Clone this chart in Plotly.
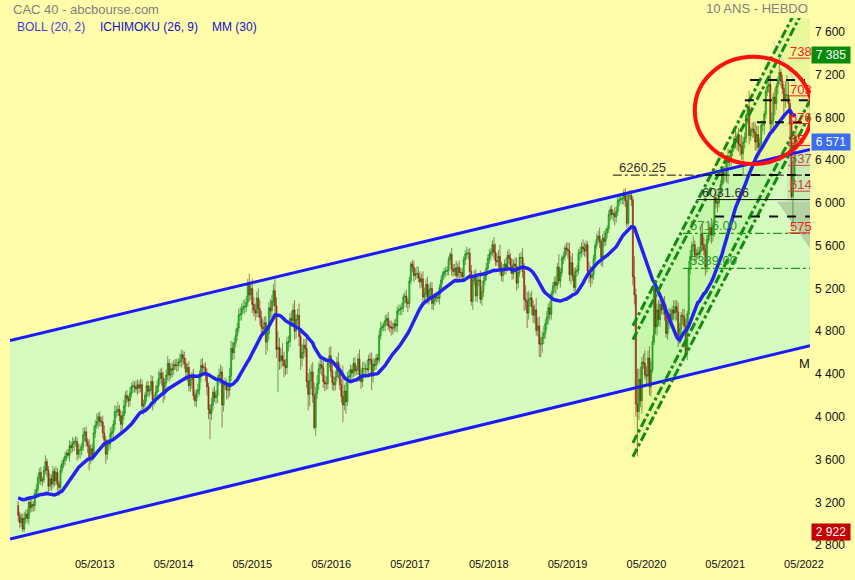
import pandas as pd
import plotly.graph_objects as go

# ---------------- weekly closes (CAC 40) ----------------
c_pre = [3170,3080,3350,3120,3110,2930,2820,3150,3120,2990,3070,3160,3140,3200,3320,
         3320,3420,3370,3470,3450,3480,3490,3600,3490,3420,3320,3190,3190,3270,3170]
c2012 = [3080,3010,3050, 2950,3050,3090,3050,3200, 3150,3180,3170,3280, 3320,3430,3480,3400,3410,
         3500,3580,3500,3350, 3420,3370,3490,3400, 3480,3370,3340,3500,3560, 3590,3630,3660,3640]
c2013 = [3730,3710,3750,3770, 3770,3650,3690,3690, 3720,3830,3860,3770,3730, 3600,3700,3640,3850,
         3920,3950,4000,3960,3950, 3850,3780,3650,3740, 3750,3840,3860,3930, 4050,4050,4070,4010,3930,
         4010,4100,4200,4170, 4150,4220,4280,4290, 4280,4260,4300,4270,4300, 4100,4120,4200,4290]
c2014 = [4240,4250,4330,4160,4170, 4230,4290,4360,4410, 4360,4220,4320,4390, 4500,4390,4450,4440,
         4490,4480,4480,4510,4520, 4580,4550,4500,4420, 4460,4290,4350,4380, 4200,4150,4220,4250,4380,
         4480,4460,4460,4390, 4280,4070,4030,4110,4230, 4180,4200,4350,4390, 4420,4110,4300,4310]
c2015 = [4250,4250,4380,4640,4600, 4690,4760,4830,4950, 4960,5010,5030,5030, 5070,5240,5140,5200,
         5050,5000,4970,5110,5010, 4930,4840,4820,4880, 4700,4780,5020,4990,5080, 5180,5040,4630,4650,
         4520,4570,4530,4480, 4460,4700,4700,4920,4900, 5000,4800,4910,4950, 4750,4550,4600,4670]
c2016 = [4640,4330,4210,4340,4420, 4200,3900,4220,4310, 4450,4490,4460,4330, 4310,4310,4500,4570,4430,
         4320,4300,4370,4510, 4420,4300,4190,4110, 4240,4140,4370,4380,4440, 4410,4500,4430,4440,
         4540,4390,4330,4450,4450, 4450,4440,4540,4530, 4380,4490,4480,4550, 4530,4760,4830,4840,4860]
c2017 = [4900,4920,4850,4840, 4830,4830,4870,4850, 4990,5000,5010,5020,5120, 5130,5070,5060,5270,
         5430,5400,5320,5340, 5340,5300,5260,5290,5120, 5150,5240,5120,5190, 5200,5060,5090,5120,
         5120,5110,5210,5280,5330, 5360,5360,5370,5470, 5520,5380,5360,5390, 5320,5400,5350,5350,5310]
c2018 = [5470,5520,5530,5530, 5360,5080,5280,5320, 5130,5270,5280,5100,5170, 5270,5320,5390,5480,
         5520,5540,5610,5540, 5460,5450,5500,5390,5320, 5380,5430,5400,5510, 5480,5410,5340,5430,5410,
         5250,5350,5490,5490, 5360,5100,5080,4970, 5100,5110,5030,4950,5000, 4810,4850,4680,4680]
c2019 = [4740,4780,4870,4930, 5020,4960,5150,5220, 5260,5230,5400,5270,5350, 5480,5500,5580,5570,
         5550,5330,5440,5320,5210, 5360,5370,5530,5540, 5590,5570,5550,5610, 5360,5330,5300,5330,5480,
         5600,5660,5690,5640, 5490,5670,5640,5720, 5760,5890,5940,5890,5900, 5870,5920,6020,6030]
c2020 = [6040,6040,6100,6020,5810, 6070,6070,6030,5310, 5140,4120,4050,4350, 4150,4510,4500,4390,
         4380,4550,4280,4440,4700, 5200,4840,5000,4910, 5050,5000,5070,4960,4780, 4890,4960,4910,5000,
         4970,5030,4980,4730, 4820,4950,4940,4850,4590, 4960,5380,5500,5600, 5610,5510,5530,5520]
c2021 = [5550,5710,5610,5560,5400, 5660,5700,5770,5700, 5780,6050,6000,6000, 6100,6170,6290,6260,6270,
         6390,6380,6390,6480, 6520,6600,6570,6620, 6550,6530,6460,6570,6610, 6820,6900,6630,6680,
         6690,6660,6570,6640, 6520,6560,6730,6730,6830, 7040,7090,7110,6740, 6770,6990,6930,7090,7150]
c2022 = [7220,7140,7070,6970, 7010,7010,6930,6750, 6060,6260,6620,6571]

# upper / lower wick lengths (points beyond the candle body)
u2012 = [40,30,50,40,60,40,50,30,40,60,30,40,50,30,40,50,30,40,60,30,40,50,40,50,30,60,40,30,50,40,30,40,30,40]
d2012 = [60,50,40,28,30,50,40,60,50,40,60,50,30,40,60,40,50,30,40,60,70,40,60,40,50,40,60,80,40,30,40,50,40,30]
u2013 = [50,40,60,30, 50,40,60,50, 40,70,40,50,30, 60,40,50,60, 50,80,40,50,40, 60,70,40,50, 40,60,50,40,
         60,50,70,40,50, 40,60,40,50, 30,60,40,50, 40,60,50,40,60, 50,40,30,40]
d2013 = [60,50,40,70, 50,60,40,80, 50,40,60,50,70, 100,40,60,40, 50,30,60,50,40, 50,60,90,50, 60,50,40,70,
         50,60,40,50,90, 50,40,70,40, 60,50,40,60, 50,40,60,50,40, 70,80,50,60]
u2014 = [50,40,60,50,40, 60,50,70,40, 50,60,40,50, 70,40,50,60, 40,50,60,40,70, 50,40,60,50, 40,60,50,40,
         70,50,40,60,50, 60,70,40,50, 60,40,50,70,40, 60,50,40,60, 70,50,40,60]
d2014 = [60,50,40,100,60, 50,40,60,50, 70,90,60,40, 50,60,40,70, 50,40,60,50,40, 60,70,50,60, 90,50,60,90,
         40,50,60,40,50, 60,50,40,60, 80,90,240,60,50, 40,60,70,50, 80,210,60,50]
u2015 = [40,60,80,70,60, 50,60,50,60, 70,50,60,70, 60,50,100,60, 90,70,60,60,90, 80,60,70,60, 60,70,50,80,60,
         60,110,80,150, 90,70,120,80, 60,50,60,50,70, 60,90,50,60, 110,70,80,60]
d2015 = [90,80,60,50,70, 60,40,50,40, 50,60,40,70, 50,40,60,50, 80,60,70,40,80, 70,90,60,50, 120,80,60,70,60,
         50,90,80,400, 80,70,60,110, 70,60,90,50,60, 60,80,70,50, 90,110,80,60]
u2016 = [60,90,80,110,70, 90,120,60,80, 60,70,60,90, 60,70,50,80,90, 70,60,60,50, 90,70,60,290, 60,80,50,60,50,
         40,50,60,40, 50,90,70,60,70, 50,80,40,60, 70,60,50,40, 40,50,60,40,30]
d2016 = [80,60,150,110,80, 70,20,80,50, 60,50,80,60, 70,60,50,40,60, 70,60,50,40, 60,50,60,160, 50,110,40,50,40,
         60,40,50,40, 50,60,70,50,60, 70,50,60,40, 130,60,50,40, 40,30,40,30,40]
u2017 = [50,40,60,50, 60,50,40,50, 40,50,40,50,30, 40,60,40,40, 20,40,60,50, 70,60,60,50,70, 60,50,70,50,
         60,60,50,40, 40,50,30,40,30, 30,40,40,30, 20,60,50,40, 70,40,60,40,40]
d2017 = [60,50,40,50, 70,60,40,50, 60,40,50,60,40, 60,50,80,40, 30,50,60,40, 50,40,60,50,60, 70,50,60,70,
         70,60,60,50, 50,40,60,50,40, 40,50,40,50, 50,60,50,40, 40,50,60,50,40]
u2018 = [30,40,60,40, 50,60,40,50, 60,70,50,90,50, 40,50,50,40, 50,40,40,70, 80,70,60,110,60, 50,40,60,40,
         60,50,70,40,60, 80,40,40,50, 90,80,130,90, 80,50,70,60,50, 110,80,90,70]
d2018 = [40,50,40,60, 60,40,80,50, 50,60,50,40,60, 50,40,40,30, 50,60,40,60, 50,40,60,60,50, 60,50,70,40,
         50,70,60,50,60, 70,50,40,60, 60,110,80,140, 60,70,80,70,80, 50,60,120,124]
u2019 = [60,70,40,60, 40,60,30,40, 50,60,40,120,40, 30,40,30,50, 60,80,60,90,70, 40,50,40,50, 40,70,60,40,
         30,90,80,70,40, 40,50,50,80, 20,40,70,40, 30,40,30,40,30, 60,50,40,40]
d2019 = [80,60,50,60, 70,60,50,40, 60,80,40,30,60, 40,50,40,60, 70,60,90,50,40, 60,50,40,70, 50,60,50,60,
         30,80,90,60,50, 40,30,40,60, 80,90,50,40, 50,40,60,40,60, 80,50,40,50]
u2020 = [50,40,30,40,60, 40,50,50,30, 190,60,330,100, 120,50,80,120, 80,70,110,80,60, 10,20,60,90,
         50,80,40,60,90, 50,60,50,40, 90,60,60,90, 60,30,60,70,70, 30,80,60,40, 80,40,40,60]
d2020 = [40,50,60,60,40, 20,40,60,80, 90,120,418,80, 60,120,50,40, 90,60,80,90,30, 30,70,80,60,
         70,40,50,60,40, 60,70,60,50, 60,70,80,80, 50,60,80,60,30, 60,80,50,40, 60,70,50,40]
u2021 = [40,60,100,70,60, 40,60,40,90, 60,30,80,50, 30,40,30,50,80, 50,120,60,40, 20,30,100,40,
         80,80,110,50,50, 20,20,150,30, 60,70,90,80, 80,50,40,40,30, 30,40,50,140, 80,40,80,30,30]
d2021 = [60,40,60,50,80, 50,40,60,80, 60,90,50,90, 40,30,50,80,60, 80,200,40,50, 40,30,60,80,
         70,90,60,200,60, 50,80,80,50, 70,50,80,80, 100,80,50,60,90, 40,40,60,90, 90,80,110,60,70]
u2022 = [156,30,60,40, 130,190,130,40, 90,140,20,90]
d2022 = [40,50,50,180, 80,60,80,310, 20,304,90,70]

# ---------------- drawn objects (dates / price levels) ----------------
view_range = ["2012-04-03", "2022-05-29"]
chan_dates = ["2012-04-03", "2022-05-29"]
chan_top = [4713, 6500]
chan_bot = [2856, 4666]

reg_dates = ["2020-02-28", "2022-05-29"]
reg_up = [4852, 8055]
reg_lo = [3626, 6829]
reg_gap = 130

fan_dates = ["2021-12-09", "2022-05-29"]
fan_prices = [7507, 6876]
shade_tri = (["2021-12-28", "2022-05-29", "2022-05-29"], [6012, 6012, 5576])
shade_box = (["2022-02-12", "2022-05-29", "2022-05-29", "2022-02-12"], [6569, 6569, 6012, 6012])

levels_black_dash = [(7150, "2021-08-24", "2022-05-06"), (6960, "2021-07-31", "2022-05-29"),
                     (6755, "2021-09-25", "2022-05-29"), (6262, "2021-03-15", "2022-05-29"),
                     (5873, "2021-03-15", "2022-05-29")]
level_6260 = (6260.25, "2019-11-27", "2022-05-29")
level_6031 = (6031.66, "2020-12-20", "2022-05-29")
levels_green = [(5716.00, "2020-10-17", "2022-05-29"), (5389.00, "2020-10-17", "2022-05-29")]

fib_labels = ["738", "703", "676", "65", "637", "614", "575"]
fib_prices = [7414, 7062, 6802, 6597, 6412, 6170, 5780]
fib_colors = ["#ff1a1a", "#ff1a1a", "#ff1a1a", "#ff1a1a", "#d04040", "#d04040", "#ff1a1a"]

circle_box = ("2020-12-11", "2022-06-07", 6365, 7368)

y_tick_vals = [2800, 3200, 3600, 4000, 4400, 4800, 5200, 5600, 6000, 6400, 6800, 7200, 7600]
y_tick_text = ["2 800", "3 200", "3 600", "4 000", "4 400", "4 800", "5 200", "5 600",
               "6 000", "6 400", "6 800", "7 200", "7 600"]
x_tick_vals = ["2013-05-01", "2014-05-01", "2015-05-01", "2016-05-01", "2017-05-01",
               "2018-05-01", "2019-05-01", "2020-05-01", "2021-05-01", "2022-05-01"]
x_tick_text = ["05/2013", "05/2014", "05/2015", "05/2016", "05/2017",
               "05/2018", "05/2019", "05/2020", "05/2021", "05/2022"]

tags = [(7385, "7 385", "#0a8a0a"), (6571, "6 571", "#3a6cf4"), (2922, "2 922", "#c40000")]

# ---------------- assemble ----------------
closes = c_pre + c2012 + c2013 + c2014 + c2015 + c2016 + c2017 + c2018 + c2019 + c2020 + c2021 + c2022
ups = u2012 + u2013 + u2014 + u2015 + u2016 + u2017 + u2018 + u2019 + u2020 + u2021 + u2022
dns = d2012 + d2013 + d2014 + d2015 + d2016 + d2017 + d2018 + d2019 + d2020 + d2021 + d2022
n_pre = len(c_pre)
dates = pd.date_range("2011-10-14", periods=len(closes), freq="W-FRI")
vis_dates = dates[n_pre:]
vis_close = closes[n_pre:]
vis_open = closes[n_pre - 1:-1]
vis_high = [max(o, c) + u for o, c, u in zip(vis_open, vis_close, ups)]
vis_low = [min(o, c) - d for o, c, d in zip(vis_open, vis_close, dns)]
ma30 = pd.Series(closes).rolling(30).mean().tolist()[n_pre:]


def ms(d):
    return int(pd.Timestamp(d).value // 10**6)


def poly_path(xs, ys):
    pts = [f"{ms(x)},{y}" for x, y in zip(xs, ys)]
    return "M " + " L ".join(pts) + " Z"


BG = "#FFFDAA"
CH_FILL = "#D5FBBE"
BLUE = "#1a1aff"
DGREEN = "#138a13"
FONT = "Liberation Sans, Arial, sans-serif"

fig = go.Figure()

# candles
fig.add_trace(go.Candlestick(x=vis_dates, open=vis_open, high=vis_high, low=vis_low, close=vis_close,
                             increasing=dict(line=dict(color="#0c700c", width=0.6), fillcolor="#12f212"),
                             decreasing=dict(line=dict(color="#7a1e0e", width=0.6), fillcolor="#d42a18"),
                             whiskerwidth=0, showlegend=False, hoverinfo="skip"))

# MM(30)
fig.add_trace(go.Scatter(x=vis_dates, y=ma30, mode="lines", line=dict(color="#2323f0", width=3.5),
                         hoverinfo="skip", showlegend=False))

# blue channel lines
for ys in (chan_top, chan_bot):
    fig.add_trace(go.Scatter(x=chan_dates, y=ys, mode="lines", line=dict(color=BLUE, width=3),
                             hoverinfo="skip", showlegend=False))

# thin fan line
fig.add_trace(go.Scatter(x=fan_dates, y=fan_prices, mode="lines", line=dict(color="#c8c8c8", width=1),
                         hoverinfo="skip", showlegend=False))

# regression channel dash-dot lines
for ys in ([reg_up[0], reg_up[1]], [reg_up[0] - reg_gap, reg_up[1] - reg_gap],
           [reg_lo[0], reg_lo[1]], [reg_lo[0] + reg_gap, reg_lo[1] + reg_gap]):
    fig.add_trace(go.Scatter(x=reg_dates, y=ys, mode="lines",
                             line=dict(color=DGREEN, width=3, dash="dashdot"),
                             hoverinfo="skip", showlegend=False))

# horizontal levels
for p, d0, d1 in levels_black_dash:
    fig.add_trace(go.Scatter(x=[d0, d1], y=[p, p], mode="lines",
                             line=dict(color="#111111", width=2, dash="dash"),
                             hoverinfo="skip", showlegend=False))
fig.add_trace(go.Scatter(x=[level_6260[1], level_6260[2]], y=[level_6260[0]] * 2, mode="lines",
                         line=dict(color="#111111", width=1, dash="dashdot"), hoverinfo="skip", showlegend=False))
fig.add_trace(go.Scatter(x=[level_6031[1], level_6031[2]], y=[level_6031[0]] * 2, mode="lines",
                         line=dict(color="#111111", width=1), hoverinfo="skip", showlegend=False))
for p, d0, d1 in levels_green:
    fig.add_trace(go.Scatter(x=[d0, d1], y=[p, p], mode="lines",
                             line=dict(color="#1c9a1c", width=1.3, dash="dashdot"),
                             hoverinfo="skip", showlegend=False))

annotations = []
annotations.append(dict(x=level_6260[1], y=level_6260[0], xref="x", yref="y", text="6260.25",
                        xanchor="left", yanchor="bottom", xshift=4, yshift=-2, showarrow=False,
                        font=dict(family=FONT, size=13, color="#333333")))
annotations.append(dict(x="2021-01-04", y=level_6031[0], xref="x", yref="y", text="6031.66",
                        xanchor="left", yanchor="bottom", yshift=-2, showarrow=False,
                        font=dict(family=FONT, size=13, color="#333333")))
for p, d0, d1 in levels_green:
    annotations.append(dict(x="2020-11-09", y=p, xref="x", yref="y", text=f"{p:.2f}",
                            xanchor="left", yanchor="bottom", yshift=-2, showarrow=False,
                            font=dict(family=FONT, size=13, color="#2a9a2a")))

# fib labels with underline
for lab, p, col in zip(fib_labels, fib_prices, fib_colors):
    annotations.append(dict(x="2022-02-17", y=p, xref="x", yref="y", text=lab, xanchor="left",
                            yanchor="middle", showarrow=False, font=dict(family=FONT, size=13, color=col)))
    fig.add_trace(go.Scatter(x=["2022-02-17", "2022-05-29"], y=[p - 60, p - 60], mode="lines",
                             line=dict(color=col, width=1), hoverinfo="skip", showlegend=False))

# price tags on the right axis
for p, txt, col in tags:
    annotations.append(dict(x=1.0, y=p, xref="paper", yref="y", text=txt, xanchor="left",
                            yanchor="middle", xshift=1, showarrow=False, bgcolor=col,
                            font=dict(family=FONT, size=12, color="white"), borderpad=1,
                            width=36, align="center"))


def px(xp):
    return (xp - 10) / 800.0


def py(yp):
    return (560 - yp) / 542.0


annotations += [
    dict(x=px(11), y=py(9), xref="paper", yref="paper", text="CAC 40 - abcbourse.com", xanchor="left",
         yanchor="middle", showarrow=False, font=dict(family=FONT, size=13, color="#7f7f7f")),
    dict(x=px(810), y=py(8), xref="paper", yref="paper", text="10 ANS - HEBDO", xanchor="right",
         yanchor="middle", showarrow=False, font=dict(family=FONT, size=13, color="#7f7f7f")),
    dict(x=px(15), y=py(27), xref="paper", yref="paper", text="BOLL (20, 2)", xanchor="left",
         yanchor="middle", showarrow=False, font=dict(family=FONT, size=12, color="#3d3dd8")),
    dict(x=px(98), y=py(27), xref="paper", yref="paper", text="ICHIMOKU (26, 9)", xanchor="left",
         yanchor="middle", showarrow=False, font=dict(family=FONT, size=12, color="#1010d0")),
    dict(x=px(210), y=py(27), xref="paper", yref="paper", text="MM (30)", xanchor="left",
         yanchor="middle", showarrow=False, font=dict(family=FONT, size=12, color="#1010d0")),
    dict(x=px(812), y=py(366), xref="paper", yref="paper", text="M", xanchor="right",
         yanchor="middle", showarrow=False, font=dict(family=FONT, size=13, color="#111111")),
]

shapes = [
    dict(type="path", xref="x", yref="y", layer="below", line=dict(width=0), fillcolor=CH_FILL,
         path=poly_path([chan_dates[0], chan_dates[1], chan_dates[1], chan_dates[0]],
                        [chan_top[0], chan_top[1], chan_bot[1], chan_bot[0]])),
    dict(type="path", xref="x", yref="y", layer="below", line=dict(width=0),
         fillcolor="rgba(150,230,100,0.22)",
         path=poly_path([reg_dates[0], reg_dates[1], reg_dates[1], reg_dates[0]],
                        [reg_up[0], reg_up[1], reg_lo[1], reg_lo[0]])),
    dict(type="path", xref="x", yref="y", layer="below", line=dict(width=0),
         fillcolor="rgba(110,120,100,0.30)", path=poly_path(*shade_tri)),
    dict(type="path", xref="x", yref="y", layer="below", line=dict(width=0),
         fillcolor="rgba(110,120,100,0.12)", path=poly_path(*shade_box)),
    dict(type="circle", xref="x", yref="y", x0=circle_box[0], x1=circle_box[1],
         y0=circle_box[2], y1=circle_box[3], line=dict(color="#ff1010", width=4), layer="above"),
]

fig.update_layout(
    width=855, height=580,
    margin=dict(l=10, r=45, t=18, b=20),
    paper_bgcolor=BG, plot_bgcolor=BG,
    showlegend=False,
    boxgap=0.0,
    annotations=annotations,
    shapes=shapes,
    font=dict(family=FONT, size=12, color="#000000"),
    xaxis=dict(type="date", range=view_range, tickvals=x_tick_vals, ticktext=x_tick_text,
               showgrid=False, zeroline=False, showline=False, ticks="",
               tickfont=dict(family="Liberation Sans Narrow, Liberation Sans, Arial", size=11, color="#111111"),
               rangeslider=dict(visible=False), fixedrange=True),
    yaxis=dict(side="right", range=[2698, 7730], tickvals=y_tick_vals, ticktext=y_tick_text,
               showgrid=False, zeroline=False, showline=False, ticks="", ticklabelstandoff=4,
               tickfont=dict(family=FONT, size=12, color="#111111"), fixedrange=True),
)

fig.write_html("out.html", config={"displayModeBar": False},
               post_script="document.body.style.margin='0';document.body.style.overflow='hidden';")
